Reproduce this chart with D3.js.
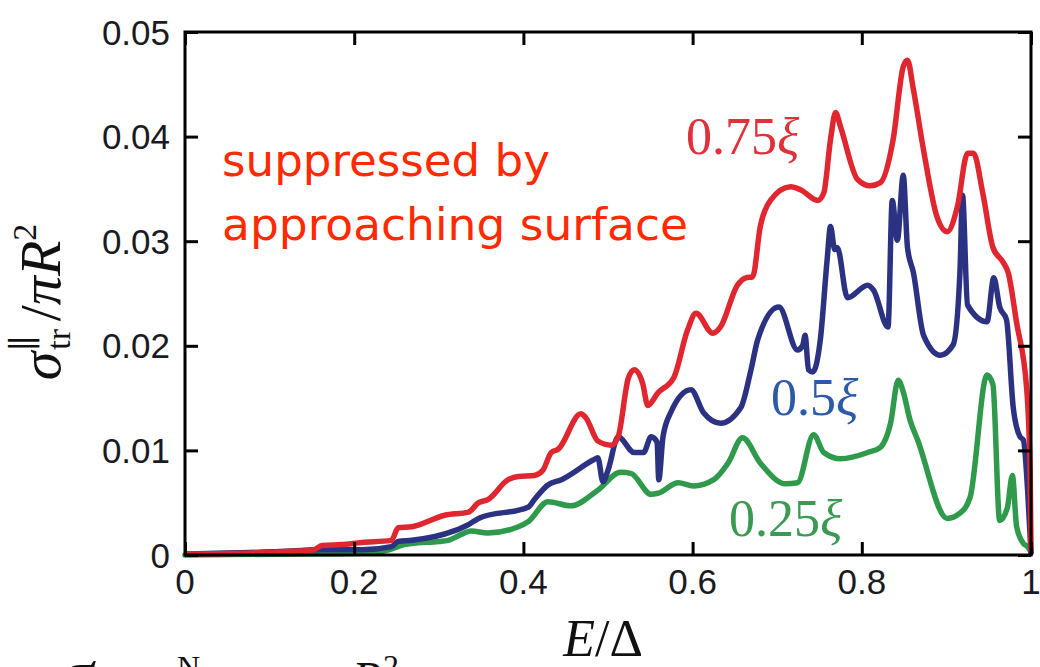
<!DOCTYPE html>
<html>
<head>
<meta charset="utf-8">
<script src="https://cdn.jsdelivr.net/npm/d3@7"></script>
<style>
  html, body { margin: 0; padding: 0; background: #fff; }
  svg { display: block; }
</style>
</head>
<body>
<svg id="chart" width="1040" height="667"></svg>
<script>
// ---- data ----
const xTicks = [0, 0.2, 0.4, 0.6, 0.8, 1];
const xTickLabels = ["0", "0.2", "0.4", "0.6", "0.8", "1"];
const yTicks = [0, 0.01, 0.02, 0.03, 0.04, 0.05];
const yTickLabels = ["0", "0.01", "0.02", "0.03", "0.04", "0.05"];

const seriesNames = ["0.75ξ", "0.5ξ", "0.25ξ"];

const redE = [0.002,0.079,0.138,0.152,0.162,0.185,0.209,0.244,0.252,0.268,0.307,0.335,0.347,0.358,0.382,0.394,0.413,0.423,0.433,0.441,0.468,0.474,0.488,0.504,0.512,0.524,0.531,0.541,0.547,0.559,0.578,0.594,0.604,0.624,0.633,0.653,0.663,0.671,0.680,0.692,0.716,0.728,0.748,0.755,0.763,0.769,0.775,0.795,0.810,0.822,0.837,0.849,0.854,0.861,0.873,0.889,0.901,0.913,0.925,0.932,0.943,0.955,0.967,0.973,0.983,0.995,0.999,1.0];
const redS = [0.0001,0.0002,0.0004,0.0005,0.0009,0.0010,0.0012,0.0014,0.0026,0.0027,0.0038,0.0041,0.0050,0.0053,0.0072,0.0075,0.0076,0.0081,0.0098,0.0101,0.0135,0.0131,0.0109,0.0105,0.0113,0.0169,0.0177,0.0164,0.0143,0.0155,0.0170,0.0215,0.0231,0.0212,0.0218,0.0258,0.0265,0.0266,0.0314,0.0339,0.0352,0.0349,0.0339,0.0346,0.0397,0.0423,0.0409,0.0359,0.0353,0.0356,0.0397,0.0467,0.0473,0.0445,0.0387,0.0323,0.0309,0.0333,0.0384,0.0384,0.0346,0.0294,0.0280,0.0270,0.0222,0.0158,0.0078,0.0005];

const blueE = [0.002,0.103,0.162,0.209,0.244,0.252,0.268,0.318,0.335,0.347,0.406,0.413,0.429,0.445,0.483,0.488,0.494,0.500,0.512,0.531,0.542,0.551,0.558,0.560,0.565,0.574,0.598,0.613,0.633,0.657,0.669,0.677,0.702,0.724,0.730,0.733,0.737,0.742,0.751,0.759,0.763,0.768,0.771,0.783,0.807,0.814,0.831,0.836,0.842,0.849,0.854,0.861,0.873,0.893,0.908,0.916,0.919,0.925,0.948,0.956,0.963,0.971,0.979,0.987,0.991,0.996,1.0];
const blueS = [0.0001,0.0003,0.0005,0.0005,0.0008,0.0013,0.0014,0.0023,0.0029,0.0035,0.0046,0.0053,0.0067,0.0072,0.0091,0.0093,0.0070,0.0081,0.0113,0.0098,0.0098,0.0113,0.0108,0.0072,0.0113,0.0136,0.0158,0.0136,0.0126,0.0141,0.0177,0.0206,0.0237,0.0196,0.0200,0.0210,0.0177,0.0175,0.0206,0.0282,0.0314,0.0292,0.0294,0.0246,0.0258,0.0253,0.0218,0.0339,0.0301,0.0363,0.0294,0.0270,0.0210,0.0191,0.0201,0.0270,0.0344,0.0239,0.0223,0.0265,0.0237,0.0225,0.0141,0.0113,0.0110,0.0062,0.0002];

const greenE = [0.0,0.138,0.221,0.241,0.259,0.268,0.300,0.311,0.330,0.338,0.358,0.394,0.406,0.429,0.456,0.488,0.515,0.527,0.551,0.559,0.583,0.601,0.625,0.642,0.659,0.680,0.710,0.724,0.743,0.755,0.775,0.807,0.822,0.834,0.843,0.849,0.857,0.866,0.901,0.916,0.928,0.948,0.955,0.963,0.972,0.978,0.983,0.991,0.996,1.0];
const greenS = [0.0,0.0001,0.0002,0.0005,0.0010,0.0011,0.0013,0.0014,0.0021,0.0023,0.0021,0.0027,0.0032,0.0051,0.0047,0.0062,0.0079,0.0078,0.0058,0.0059,0.0069,0.0066,0.0072,0.0088,0.0112,0.0088,0.0068,0.0069,0.0115,0.0098,0.0092,0.0098,0.0103,0.0126,0.0167,0.0156,0.0129,0.0110,0.0035,0.0040,0.0055,0.0172,0.0163,0.0033,0.0045,0.0076,0.0027,0.0011,0.0008,0.0003];

// ---- chart ----
const svg = d3.select("#chart");
const L = 185, R = 1031, T = 32, B = 555;
const x = d3.scaleLinear().domain([0, 1]).range([L, R]);
const y = d3.scaleLinear().domain([0, 0.05]).range([B, T]);

const tickColor = "#1a1a22";
const tickFont = "'Liberation Sans', Arial, sans-serif";

// curves
const series = [
  {name: seriesNames[2], E: greenE, S: greenS, color: "#2f9a4c"},
  {name: seriesNames[1], E: blueE,  S: blueS,  color: "#2b3282"},
  {name: seriesNames[0], E: redE,   S: redS,   color: "#e0262f"}
];
const line = d3.line().x(d => x(d[0])).y(d => y(d[1])).curve(d3.curveMonotoneX);
const gLines = svg.append("g");
series.forEach(s => {
  gLines.append("path")
    .datum(s.E.map((e, i) => [e, s.S[i]]))
    .attr("d", line)
    .attr("fill", "none")
    .attr("stroke", s.color)
    .attr("stroke-width", 5.5)
    .attr("stroke-linejoin", "round")
    .attr("stroke-linecap", "round");
});

// axes (ticks inward on all four sides)
const tickLen = 13;
const axB = d3.axisBottom(x).tickValues(xTicks).tickSize(-tickLen).tickFormat("");
const axT = d3.axisTop(x).tickValues(xTicks).tickSize(-tickLen).tickFormat("");
const axLft = d3.axisLeft(y).tickValues(yTicks).tickSize(-tickLen).tickFormat("");
const axRgt = d3.axisRight(y).tickValues(yTicks).tickSize(-tickLen).tickFormat("");
[[axB, `translate(0,${B})`], [axT, `translate(0,${T})`], [axLft, `translate(${L},0)`], [axRgt, `translate(${R},0)`]]
  .forEach(([ax, tr]) => {
    const g = svg.append("g").attr("transform", tr).call(ax);
    g.select(".domain").remove();
    g.selectAll(".tick line").attr("stroke", "#000").attr("stroke-width", 3);
  });
svg.append("rect").attr("x", L).attr("y", T).attr("width", R - L).attr("height", B - T)
  .attr("fill", "none").attr("stroke", "#000").attr("stroke-width", 3);

// tick labels
svg.append("g").selectAll("text").data(yTicks).join("text")
  .attr("x", L - 15).attr("y", d => y(d)).attr("dy", "0.36em")
  .attr("text-anchor", "end")
  .attr("font-family", tickFont).attr("font-size", 35).attr("fill", tickColor)
  .text((d, i) => yTickLabels[i]);
svg.append("g").selectAll("text").data(xTicks).join("text")
  .attr("x", d => x(d)).attr("y", 594)
  .attr("text-anchor", "middle")
  .attr("font-family", tickFont).attr("font-size", 35).attr("fill", tickColor)
  .text((d, i) => xTickLabels[i]);

// axis titles
const serif = "'Liberation Serif', 'DejaVu Serif', serif";
const xl = svg.append("text").attr("x", 603).attr("y", 656).attr("text-anchor", "middle")
  .attr("font-family", serif).attr("font-size", 52).attr("fill", "#111");
xl.append("tspan").attr("font-style", "italic").text("E");
xl.append("tspan").text("/Δ");

const yl = svg.append("text").attr("transform", "translate(60,302) rotate(-90)")
  .attr("text-anchor", "middle").attr("font-family", serif).attr("font-size", 58).attr("fill", "#111");
yl.append("tspan").attr("font-style", "italic").text("σ");
yl.append("tspan").attr("font-size", 34).attr("dx", 2).attr("dy", 10).text("tr");
yl.append("tspan").attr("font-size", 34).attr("dx", -22).attr("dy", -34).text("∥");
yl.append("tspan").attr("dx", 14).attr("dy", 24).text("/");
yl.append("tspan").attr("font-style", "italic").text("πR");
yl.append("tspan").attr("font-size", 34).attr("dy", -24).text("2");

// annotation
const comic = "'Comic Sans MS', 'DejaVu Sans', sans-serif";
svg.append("text").attr("x", 222).attr("y", 176).attr("font-family", comic).attr("font-size", 44)
  .attr("fill", "#ff2a00").attr("textLength", 328).attr("lengthAdjust", "spacingAndGlyphs").text("suppressed by");
svg.append("text").attr("x", 222).attr("y", 240).attr("font-family", comic).attr("font-size", 44)
  .attr("fill", "#ff2a00").attr("textLength", 466).attr("lengthAdjust", "spacingAndGlyphs").text("approaching surface");

// series labels
const labels = [
  {t: seriesNames[0], x: 686, y: 154, c: "#e0303a"},
  {t: seriesNames[1], x: 771, y: 415, c: "#2c5aa8"},
  {t: seriesNames[2], x: 729, y: 536, c: "#3a9a52"}
];
svg.append("g").selectAll("text").data(labels).join("text")
  .attr("x", d => d.x).attr("y", d => d.y)
  .attr("font-family", serif).attr("font-size", 52).attr("fill", d => d.c)
  .each(function(d) {
    const t = d3.select(this);
    t.append("tspan").text(d.t.slice(0, -1));
    t.append("tspan").attr("font-style", "italic").text(d.t.slice(-1));
  });

// clipped next line of the page at the bottom edge
const foot = svg.append("g").attr("font-family", serif).attr("fill", "#111");
foot.append("text").attr("x", 62).attr("y", 692).attr("font-size", 60).attr("font-weight", "bold").attr("font-style", "italic").text("σ");
foot.append("text").attr("x", 177).attr("y", 678).attr("font-size", 32).text("N");
foot.append("text").attr("x", 352).attr("y", 695).attr("font-size", 48).attr("font-style", "italic").text("R");
foot.append("text").attr("x", 383).attr("y", 677).attr("font-size", 32).text("2");
</script>
</body>
</html>
